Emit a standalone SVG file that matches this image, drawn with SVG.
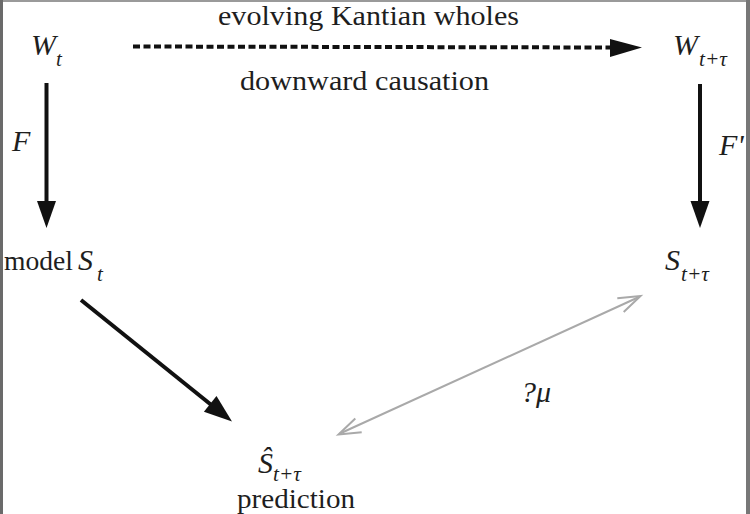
<svg xmlns="http://www.w3.org/2000/svg" width="750" height="514" viewBox="0 0 750 514">
<style>
text{font-family:"Liberation Serif","Times New Roman",serif;fill:#1e1e1e}
.lbl{font-size:28px}
.v{font-size:30px;font-style:italic}
.sub{font-size:21px;font-style:italic}
.blk{stroke:#111;stroke-width:4;fill:none}
.gry{stroke:#a9a9a9;stroke-width:2;fill:none;stroke-linejoin:miter}
.head{fill:#111}
</style>
<rect x="0" y="0" width="750" height="514" fill="#fff"/>
<rect x="0" y="0" width="750" height="2" fill="#9a9a9a"/>
<rect x="0" y="0" width="3" height="514" fill="#6a6a6a"/>
<rect x="746" y="0" width="4" height="514" fill="#777"/>

<g id="connectors">
<line class="blk" x1="133" y1="46.5" x2="612" y2="47.5" stroke-dasharray="7,3.5"/>
<path class="head" d="M610,39 L642,47.5 L610,57 Z"/>
<line class="blk" x1="46.5" y1="83" x2="46.5" y2="204"/>
<path class="head" d="M37,201 L46.5,228 L56,201 Z"/>
<line class="blk" x1="700" y1="84" x2="700" y2="204"/>
<path class="head" d="M690.5,201 L700,228 L709.5,201 Z"/>
<line class="blk" x1="81" y1="300" x2="212" y2="405.5"/>
<path class="head" d="M203.9,411.7 L232,421.5 L216.5,396.1 Z"/>
<line class="gry" x1="340" y1="433.5" x2="639" y2="297"/>
<polyline class="gry" points="355.3,418.5 338.5,434.5 361.7,432.3"/>
<polyline class="gry" points="617.3,298.2 640.5,296 623.7,312"/>
</g>

<g id="label-evolving"><text class="lbl" x="218" y="25" textLength="301" lengthAdjust="spacingAndGlyphs">evolving Kantian wholes</text></g>
<g id="label-downward"><text class="lbl" x="240" y="90" textLength="249" lengthAdjust="spacingAndGlyphs">downward causation</text></g>

<g id="node-Wt"><text class="v" x="31" y="55">W</text><text class="sub" x="56" y="66">t</text></g>
<g id="node-Wttau"><text class="v" x="673" y="55">W</text><text class="sub" x="699" y="66" textLength="28" lengthAdjust="spacingAndGlyphs">t+τ</text></g>
<g id="label-F"><text class="v" x="12" y="151">F</text></g>
<g id="label-Fp"><text class="v" x="719" y="155">F'</text></g>
<g id="node-St"><text class="lbl" x="4" y="270" textLength="69" lengthAdjust="spacingAndGlyphs">model</text><text class="v" x="78" y="270">S</text><text class="sub" x="97" y="281">t</text></g>
<g id="node-Sttau"><text class="v" x="665" y="270">S</text><text class="sub" x="681" y="281" textLength="28" lengthAdjust="spacingAndGlyphs">t+τ</text></g>
<g id="label-mu"><text class="v" x="521" y="402">?μ</text></g>
<g id="node-Shat"><text class="v" x="258" y="473">Ŝ</text><text class="sub" x="273" y="481" textLength="28" lengthAdjust="spacingAndGlyphs">t+τ</text><text class="lbl" x="237" y="508" textLength="118" lengthAdjust="spacingAndGlyphs" style="font-size:27px">prediction</text></g>
</svg>
